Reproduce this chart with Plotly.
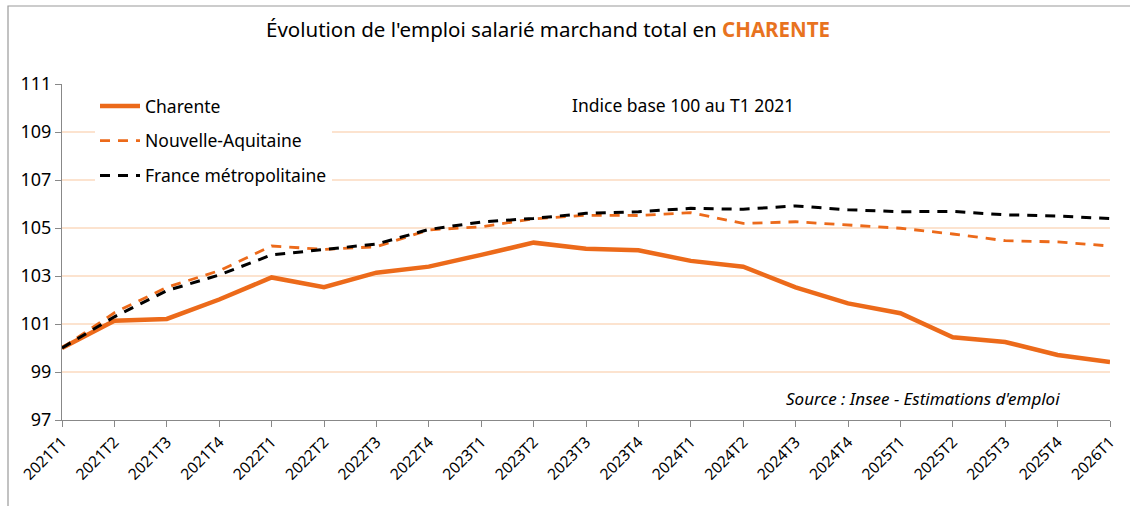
import plotly.graph_objects as go

quarters = ["2021T1", "2021T2", "2021T3", "2021T4",
            "2022T1", "2022T2", "2022T3", "2022T4",
            "2023T1", "2023T2", "2023T3", "2023T4",
            "2024T1", "2024T2", "2024T3", "2024T4",
            "2025T1", "2025T2", "2025T3", "2025T4", "2026T1"]

charente = [100.0, 101.14, 101.21, 102.02, 102.94, 102.53, 103.14, 103.39,
            103.88, 104.39, 104.14, 104.07, 103.63, 103.39, 102.53, 101.86,
            101.45, 100.45, 100.25, 99.71, 99.42]
nouvelle_aquitaine = [100.0, 101.47, 102.53, 103.22, 104.25, 104.11, 104.22, 104.92,
                      105.05, 105.38, 105.53, 105.52, 105.64, 105.19, 105.26, 105.11,
                      104.99, 104.75, 104.47, 104.42, 104.25]
france_metro = [100.0, 101.3, 102.39, 103.04, 103.88, 104.11, 104.33, 104.94,
                105.25, 105.4, 105.61, 105.68, 105.82, 105.78, 105.92, 105.76,
                105.68, 105.69, 105.55, 105.5, 105.39]

orange = "#EC6A1A"
font = "Noto Sans"

fig = go.Figure()

fig.add_trace(go.Scatter(
    x=quarters, y=charente, mode="lines", name="Charente",
    line=dict(color=orange, width=4.5), legendgroup="a"
))
fig.add_trace(go.Scatter(
    x=quarters, y=nouvelle_aquitaine, mode="lines", name="Nouvelle-Aquitaine",
    line=dict(color=orange, width=2.8, dash="10px,8px"), legendgroup="b"
))
fig.add_trace(go.Scatter(
    x=quarters, y=france_metro, mode="lines", name="France métropolitaine",
    line=dict(color="black", width=3, dash="10px,8px"), legendgroup="c"
))

# cadre gris autour du graphique
fig.add_shape(type="rect", xref="paper", yref="paper",
              x0=(8 - 62) / 1048, x1=1.05, y0=-0.35, y1=1 + (84 - 6) / 336,
              line=dict(color="#9a9a9a", width=1.2), layer="below")

fig.add_annotation(text="Indice base 100 au T1 2021", xref="paper", yref="paper",
                   x=(570 - 62) / 1048, y=1 - (105 - 84) / 336, xanchor="left",
                   yanchor="middle", showarrow=False,
                   font=dict(family=font, size=17.5, color="black"))
fig.add_annotation(text="<i>Source : Insee - Estimations d'emploi</i>",
                   xref="paper", yref="paper",
                   x=(1062 - 62) / 1048, y=1 - (398 - 84) / 336, xanchor="right",
                   yanchor="middle", showarrow=False,
                   font=dict(family=font, size=17, color="black"))

fig.update_layout(
    width=1130, height=506,
    margin=dict(l=62, r=20, t=84, b=86),
    paper_bgcolor="white", plot_bgcolor="white",
    title=dict(
        text="Évolution de l'emploi salarié marchand total en "
             "<b><span style='color:#E8731F'>CHARENTE</span></b>",
        x=548 / 1130, xanchor="center", y=1 - 30 / 506, yanchor="middle",
        font=dict(family=font, size=20.5, color="black")
    ),
    legend=dict(
        x=(95 - 62) / 1048, y=1 - (88 - 84) / 336, xanchor="left", yanchor="top",
        bgcolor="white", font=dict(family=font, size=17.5, color="black"),
        tracegroupgap=9, itemwidth=40
    ),
    xaxis=dict(
        type="category", showgrid=False, showline=True, linecolor="#888888",
        linewidth=1, ticks="outside", ticklen=6, tickcolor="#888888",
        tickangle=-45, tickfont=dict(family=font, size=15.5, color="black"),
        range=[0, len(quarters) - 1]
    ),
    yaxis=dict(
        range=[97, 111], dtick=2, tick0=97, showgrid=True, gridcolor="#FCE3CF",
        gridwidth=1.5, showline=True, linecolor="#888888", linewidth=1,
        ticks="outside", ticklen=6, tickcolor="#888888", zeroline=False,
        tickfont=dict(family=font, size=18, color="black")
    ),
)

fig.write_html("out.html", config={"displayModeBar": False},
               post_script="document.body.style.margin = '0';")
